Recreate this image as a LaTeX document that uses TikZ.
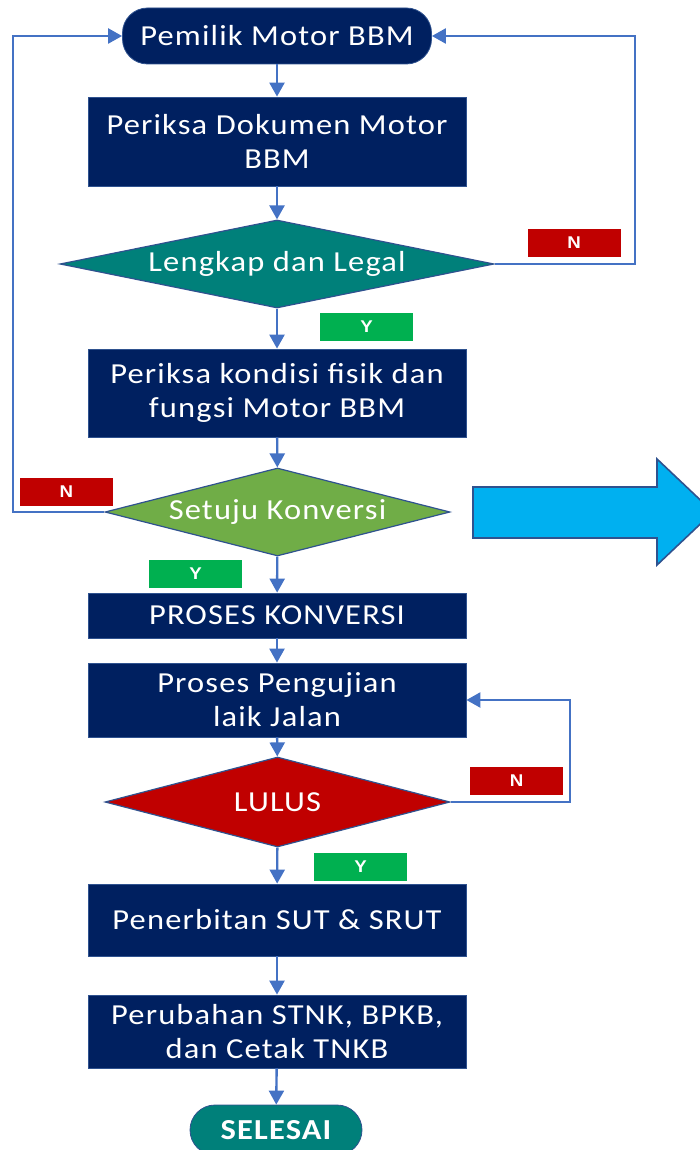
\documentclass[tikz,border=0pt]{standalone}
\usepackage{fontspec}
\setmainfont{Carlito}[FakeStretch=1.12,LetterSpace=4]
\newfontfamily\labfont{Liberation Sans}[FakeStretch=1.1]
\usetikzlibrary{arrows.meta,shapes.geometric}
\definecolor{navy}{HTML}{002060}
\definecolor{teal}{HTML}{00807A}
\definecolor{leaf}{HTML}{70AD47}
\definecolor{darkred}{HTML}{C00000}
\definecolor{okgreen}{HTML}{00B050}
\definecolor{skyblue}{HTML}{00B0F0}
\definecolor{edgeblue}{HTML}{2F528F}
\definecolor{linkblue}{HTML}{4472C4}
\tikzset{
  proc/.style={draw=edgeblue,line width=0.4pt,fill=navy,text=white,align=center,
    inner sep=0pt,minimum width=189pt,font=\fontsize{14.5}{17}\selectfont},
  term/.style={proc,rounded corners=12.5pt},
  decide/.style={diamond,draw=edgeblue,line width=0.6pt,text=white,inner sep=0pt,
    font=\fontsize{14.5}{17}\selectfont},
  tag/.style={text=white,inner sep=0pt,minimum width=46.5pt,minimum height=14pt,
    font=\labfont\bfseries\fontsize{8.5}{10}\selectfont},
  conn/.style={->,draw=linkblue,line width=1.2pt}
}
\begin{document}
\begin{tikzpicture}[x=0.5pt,y=-0.5pt,>={Triangle[width=7.5pt,length=7pt]}]
\useasboundingbox (0,0) rectangle (700,1150);
\clip (0,0) rectangle (700,1150);
% process steps
\node[term,minimum width=154.5pt,minimum height=28pt] (start) at (277,36) {Pemilik Motor BBM};
\node[proc,minimum height=44.5pt] (doc) at (277,141.5) {Periksa Dokumen Motor\\BBM};
\node[decide,fill=teal,minimum width=217pt,minimum height=44pt,aspect=4.93] (legal) at (277,264) {Lengkap dan Legal};
\node[proc,minimum height=44pt] (fisik) at (277,393) {Periksa kondisi fisik dan\\fungsi Motor BBM};
\node[decide,fill=leaf,minimum width=172.5pt,minimum height=44pt,aspect=3.92] (setuju) at (277.5,512) {Setuju Konversi};
\node[proc,minimum height=22.5pt] (konversi) at (277,615.5) {PROSES KONVERSI};
\node[proc,minimum height=37pt] (uji) at (277,700) {Proses Pengujian\\laik Jalan};
\node[decide,fill=darkred,minimum width=172.5pt,minimum height=45pt,aspect=3.83] (lulus) at (277.5,802) {LULUS};
\node[proc,minimum height=36pt] (sut) at (277,920) {Penerbitan SUT \& SRUT};
\node[proc,minimum height=36.5pt] (stnk) at (277,1031.5) {Perubahan STNK, BPKB,\\dan Cetak TNKB};
\node[term,fill=teal,minimum width=86pt,minimum height=25pt,font=\bfseries\fontsize{14.5}{17}\selectfont] (selesai) at (276,1130) {SELESAI};
% answer tags
\node[tag,fill=darkred] (n1) at (574,243) {N};
\node[tag,fill=okgreen] (y1) at (366.5,326.5) {Y};
\node[tag,fill=darkred] (n2) at (66.5,492) {N};
\node[tag,fill=okgreen] (y2) at (195.5,574) {Y};
\node[tag,fill=darkred] (n3) at (516.5,781) {N};
\node[tag,fill=okgreen] (y3) at (360.5,866.5) {Y};
% corners of the loops
\coordinate (r1) at (635,36);
\coordinate (l1) at (13,36);
\coordinate (r2) at (570,700);
% connectors
\draw[conn] (start) -- (doc);
\draw[conn] (doc) -- (legal);
\draw[conn] (legal) -- (fisik);
\draw[conn] (fisik) -- (setuju);
\draw[conn] (setuju) -- (konversi);
\draw[conn] (konversi) -- (uji);
\draw[conn] (uji) -- (lulus);
\draw[conn] (lulus) -- (sut);
\draw[conn] (sut) -- (stnk);
\draw[conn] (stnk) -- (selesai);
\draw[conn] (legal.east) -| (r1) -- (start.east);
\draw[conn] (setuju.west) -| (l1) -- (start.west);
\draw[conn] (lulus.east) -| (r2) -- (uji.east);
% big arrow
\draw[draw=edgeblue,line width=0.8pt,fill=skyblue] (473,487) -- (657,487) -- (657,459)
  -- (713,512) -- (657,565) -- (657,538) -- (473,538) -- cycle;
\end{tikzpicture}
\end{document}
